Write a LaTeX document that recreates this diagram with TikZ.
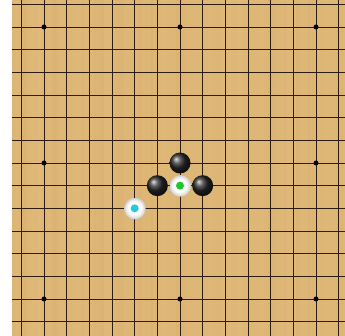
\documentclass[tikz,border=0pt]{standalone}
\usetikzlibrary{shadings}
\definecolor{wood}{RGB}{222,182,118}
\definecolor{woodA}{RGB}{232,194,132}
\definecolor{woodB}{RGB}{212,170,106}
\definecolor{gridc}{RGB}{45,28,18}
\definecolor{greendot}{RGB}{30,200,40}
\definecolor{cyandot}{RGB}{40,200,220}
\pgfdeclareradialshading{wstone}{\pgfpoint{-2bp}{2bp}}{%
  color(0bp)=(white); color(14bp)=(white); color(20bp)=(black!10); color(25bp)=(black!22)}
\tikzset{
  gridline/.style={draw=gridc, line width=0.85pt},
  starpt/.style={circle, fill=black, inner sep=0pt, minimum size=5pt},
  blackstone/.style={circle, inner sep=0pt, minimum size=21pt, shading=ball, ball color=black!85},
  whitestone/.style={circle, inner sep=0pt, minimum size=22pt, shading=wstone},
  marker/.style={circle, inner sep=0pt, minimum size=8pt},
}
\begin{document}
\begin{tikzpicture}[x=1pt,y=-1pt]
\useasboundingbox (0,0) rectangle (345,336);
\fill[white] (0,0) rectangle (345,336);
\fill[wood] (12,0) rectangle (345,336);
% wood streaks
\pgfmathsetseed{7}
\foreach \k in {1,...,60}{
  \pgfmathsetmacro{\xa}{12+rnd*333}
  \pgfmathsetmacro{\wa}{1+rnd*4}
  \pgfmathsetmacro{\op}{0.08+rnd*0.15}
  \pgfmathtruncatemacro{\pick}{rnd*2}
  \ifnum\pick=0
    \fill[woodA, opacity=\op] (\xa,0) rectangle ({min(\xa+\wa,345)},336);
  \else
    \fill[woodB, opacity=\op] (\xa,0) rectangle ({min(\xa+\wa,345)},336);
  \fi
}
\def\s{22.6667}
% grid
\foreach \i in {3,...,17}{
  \draw[gridline] ({44+(\i-4)*\s},0) -- ({44+(\i-4)*\s},336);
  \draw[gridline] (12,{27+(\i-4)*\s}) -- (345,{27+(\i-4)*\s});
}
% star points
\foreach \i in {4,10,16}{
  \foreach \j in {4,10,16}{
    \node[starpt] (star-\i-\j) at ({44+(\i-4)*\s},{27+(\j-4)*\s}) {};
  }
}
% stones
\node[blackstone] (b1) at ({44+6*\s},{27+6*\s}) {};
\node[blackstone] (b2) at ({44+5*\s},{27+7*\s}) {};
\node[blackstone] (b3) at ({44+7*\s},{27+7*\s}) {};
\node[whitestone] (w1) at ({44+6*\s},{27+7*\s}) {};
\node[whitestone] (w2) at ({44+4*\s},{27+8*\s}) {};
\node[marker, fill=greendot] (m1) at (w1) {};
\node[marker, fill=cyandot] (m2) at (w2) {};
\end{tikzpicture}
\end{document}
